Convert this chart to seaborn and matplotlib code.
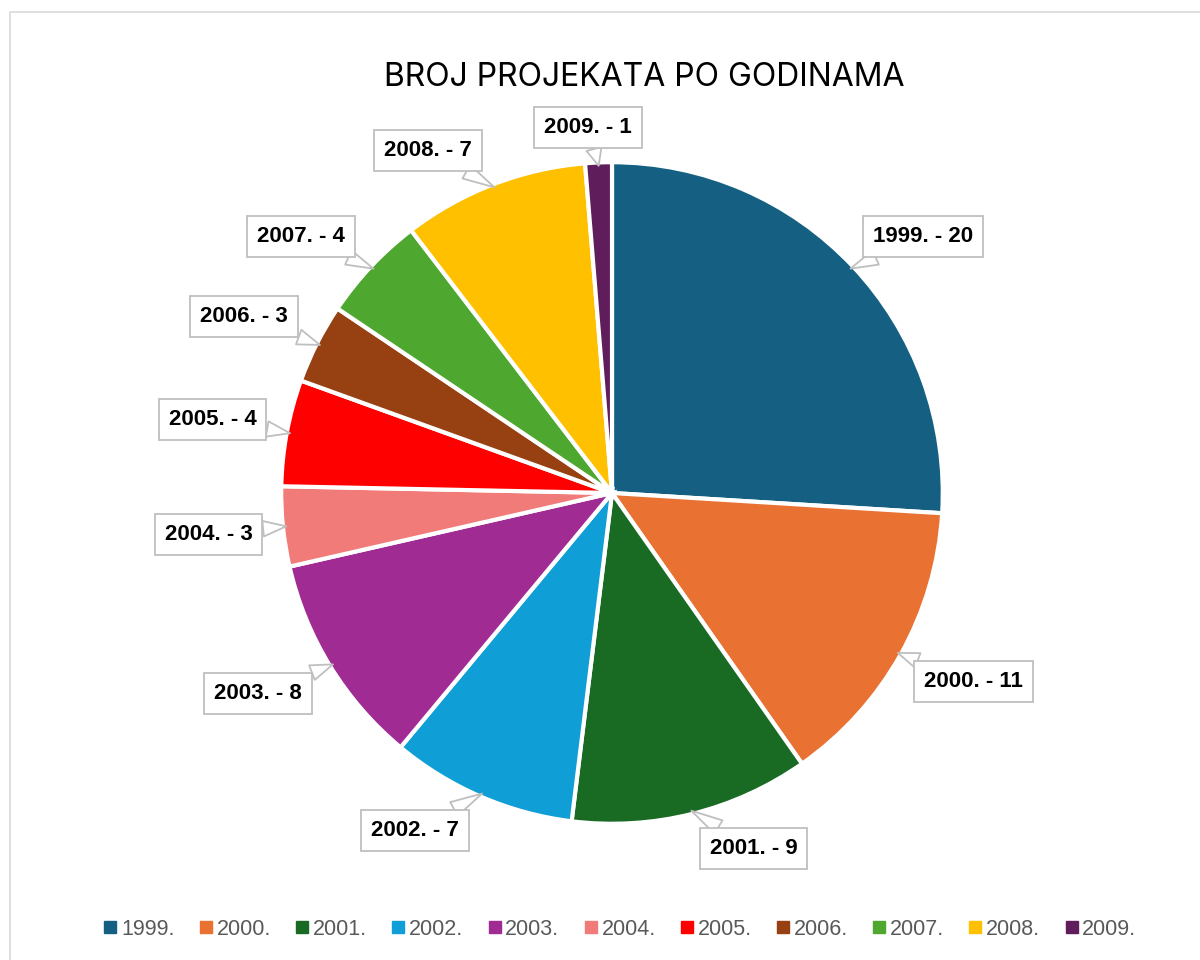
import seaborn as sns
import matplotlib.pyplot as plt
from matplotlib.lines import Line2D
from matplotlib.patches import Rectangle
import numpy as np

years = ['1999.', '2000.', '2001.', '2002.', '2003.', '2004.',
         '2005.', '2006.', '2007.', '2008.', '2009.']
counts = [20, 11, 9, 7, 8, 3, 4, 3, 4, 7, 1]
colors = ['#156082', '#E97132', '#196B24', '#0F9ED5', '#A02B93', '#F07B78',
          '#FF0000', '#974011', '#4EA72E', '#FFC000', '#5F1D5B']

sns.set_theme(style='white')
plt.rcParams['font.family'] = ['Liberation Sans', 'DejaVu Sans']

fig = plt.figure(figsize=(12, 9.6), dpi=100)
fig.patch.set_facecolor('white')

# light frame like the original chart area
fig.add_artist(Rectangle((10 / 1200, -0.02), 1.1, 1 - 12 / 960 + 0.02,
                         transform=fig.transFigure, fill=False,
                         ec='#d9d9d9', lw=1.2))

ax = fig.add_axes([(612 - 430) / 1200, (960 - 493 - 430) / 960, 860 / 1200, 860 / 960])
palette = sns.color_palette(colors)
wedges, _ = ax.pie(counts, colors=palette, startangle=90, counterclock=False,
                   wedgeprops=dict(edgecolor='white', linewidth=3))
ax.set_xlim(-1.3, 1.3)
ax.set_ylim(-1.3, 1.3)
ax.axis('off')

# callout labels: box corner sits just outside the rim, like excel does it
total = sum(counts)
cum = np.cumsum([0] + counts)
for i, (y, v) in enumerate(zip(years, counts)):
    mid = (cum[i] + v / 2) / total * 2 * np.pi
    dx, dy = np.sin(mid), np.cos(mid)
    tx = 1.045 * dx + 0.18 * np.clip(dx * 4, -1, 1)
    ty = 1.045 * dy + 0.06 * np.clip(dy * 3, -1, 1)
    ax.annotate(f'{y} - {v}', xy=(dx * 0.99, dy * 0.99), xytext=(tx, ty),
                ha='center', va='center', fontsize=16, fontweight='bold', color='black',
                annotation_clip=False,
                bbox=dict(boxstyle='square,pad=0.45', fc='white', ec='#bfbfbf', lw=1.3),
                arrowprops=dict(arrowstyle='wedge,tail_width=0.7,shrink_factor=0.5',
                                fc='white', ec='#bfbfbf', lw=1.3, shrinkA=0, shrinkB=0))

fig.text(0.537, 0.919, 'BROJ PROJEKATA PO GODINAMA', ha='center', va='center',
         fontsize=23, family=['Inter', 'DejaVu Sans'], color='black')

handles = [Line2D([], [], marker='s', ls='', color=c, markersize=8) for c in colors]
fig.legend(handles, years, loc='center', bbox_to_anchor=(0.515, 0.032), ncol=11,
           frameon=False, fontsize=15.5, labelcolor='#595959', handletextpad=0.0,
           columnspacing=0.95, handlelength=1.0)

plt.savefig('out.png', dpi=100)
